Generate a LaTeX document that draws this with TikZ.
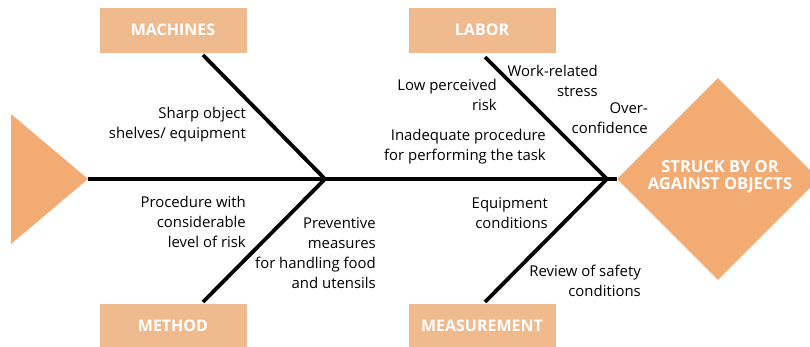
\documentclass[tikz,border=0pt]{standalone}
\usepackage{fontspec}
\setmainfont{Open Sans}
\usetikzlibrary{shapes.geometric}
\definecolor{boxfill}{HTML}{F0BA8F}
\definecolor{headfill}{HTML}{F2AB72}
\begin{document}
\begin{tikzpicture}[x=1pt,y=-1pt,
  category/.style={fill=boxfill, minimum width=147pt, minimum height=45pt,
    inner sep=0pt, text=white, font=\bfseries\fontsize{16}{17}\selectfont},
  bone/.style={line width=3.8pt},
  cause/.style={align=right, anchor=east, inner sep=0pt,
    font=\fontsize{14.9}{20}\selectfont}]
\clip (0,0) rectangle (810,346);
\fill[white] (0,0) rectangle (810,346);

% tail of the fish
\fill[headfill] (11,114) -- (88,179) -- (11,244) -- cycle;
\coordinate (tail) at (88,179);

% head: the effect
\node[diamond, fill=headfill, minimum width=202pt, minimum height=202pt,
  inner sep=0pt] (effect) at (718,179) {};
\node[align=center, text=white, inner sep=0pt,
  font=\bfseries\fontsize{16.5}{17}\selectfont] (effecttext) at (720,177)
  {STRUCK BY OR\\AGAINST OBJECTS};

% category boxes
\node[category] (machines) at (173,30) {MACHINES};
\node[category] (method) at (173,326) {METHOD};
\node[category] (labor) at (482,30) {LABOR};
\node[category] (measurement) at (482,326) {MEASUREMENT};

% joints on the spine and bone ends
\coordinate (j1) at (325,179);
\coordinate (j2) at (607,179);
\coordinate (machend) at (203,55);
\coordinate (methend) at (203,302);
\coordinate (labend) at (485,57);
\coordinate (measend) at (485,302);

% spine and bones
\draw[bone] (tail) -- (effect.west);
\draw[bone] (machend) -- (j1);
\draw[bone] (methend) -- (j1);
\draw[bone] (labend) -- (j2);
\draw[bone] (measend) -- (j2);

% causes
\node[cause] (c1) at (246,125) {Sharp object\\shelves/ equipment};
\node[cause] (c2) at (246,222) {Procedure with\\considerable\\level of risk};
\node[cause] (c3) at (376,253) {Preventive\\measures\\for handling food\\and utensils};
\node[cause] (c4) at (497,95) {Low perceived\\risk};
\node[cause] (c5) at (598,81) {Work-related\\stress};
\node[cause] (c6) at (648,118) {Over-\\confidence};
\node[cause] (c7) at (546,147) {Inadequate procedure\\for performing the task};
\node[cause] (c8) at (548,213) {Equipment\\conditions};
\node[cause] (c9) at (641,281) {Review of safety\\conditions};
\end{tikzpicture}
\end{document}
